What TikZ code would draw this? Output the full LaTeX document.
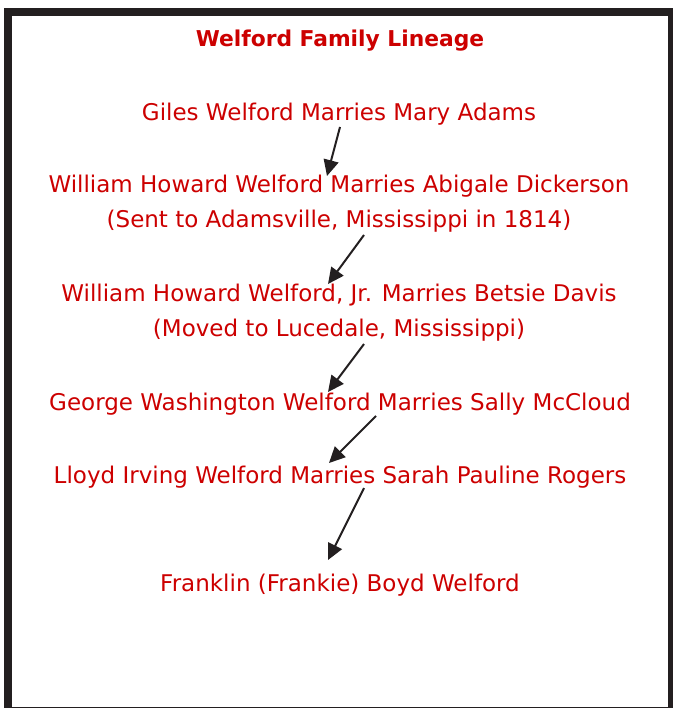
\documentclass[tikz,border=0pt]{standalone}
\usepackage{fontspec}
\setmainfont{DejaVu Sans}
\usetikzlibrary{arrows.meta}
\definecolor{txtred}{HTML}{CC0000}
\definecolor{frame}{HTML}{231F20}
\tikzset{
  entry/.style={text=txtred, font=\fontsize{23}{35}\selectfont, align=center, inner sep=0pt, anchor=base},
  titlebox/.style={text=txtred, font=\bfseries\fontsize{21.8}{30}\selectfont, inner sep=0pt, anchor=base},
  arr/.style={draw=frame, line width=2pt, -{Triangle[length=16pt,width=15pt]}}
}
\begin{document}
\begin{tikzpicture}[x=1pt,y=-1pt]
\useasboundingbox (0,0) rectangle (674,709);
% frame
\fill[frame] (4,8) rectangle (673,16);
\fill[frame] (4,8) rectangle (12,708);
\fill[frame] (668,8) rectangle (673,708);
\fill[frame] (4,707) rectangle (673,708.2);
% texts (two-line nodes are placed by the baseline of their last line)
\node[titlebox] (title) at (340,47) {Welford Family Lineage};
\node[entry] (giles) at (339,120) {Giles Welford Marries Mary Adams};
\node[entry] (william) at (339,227) {William Howard Welford Marries Abigale Dickerson\\(Sent to Adamsville, Mississippi in 1814)};
\node[entry] (jr) at (339,336) {William Howard Welford, Jr. Marries Betsie Davis\\(Moved to Lucedale, Mississippi)};
\node[entry] (george) at (340,410) {George Washington Welford Marries Sally McCloud};
\node[entry] (lloyd) at (340,483) {Lloyd Irving Welford Marries Sarah Pauline Rogers};
\node[entry] (franklin) at (340,591) {Franklin (Frankie) Boyd Welford};
% connector end points
\coordinate (a1) at (340,127); \coordinate (b1) at (327,176);
\coordinate (a2) at (364,235); \coordinate (b2) at (328,284);
\coordinate (a3) at (364,344); \coordinate (b3) at (328,392);
\coordinate (a4) at (376,416); \coordinate (b4) at (329,463);
\coordinate (a5) at (364,488); \coordinate (b5) at (328,560);
\draw[arr] (a1) -- (b1);
\draw[arr] (a2) -- (b2);
\draw[arr] (a3) -- (b3);
\draw[arr] (a4) -- (b4);
\draw[arr] (a5) -- (b5);
\end{tikzpicture}
\end{document}
